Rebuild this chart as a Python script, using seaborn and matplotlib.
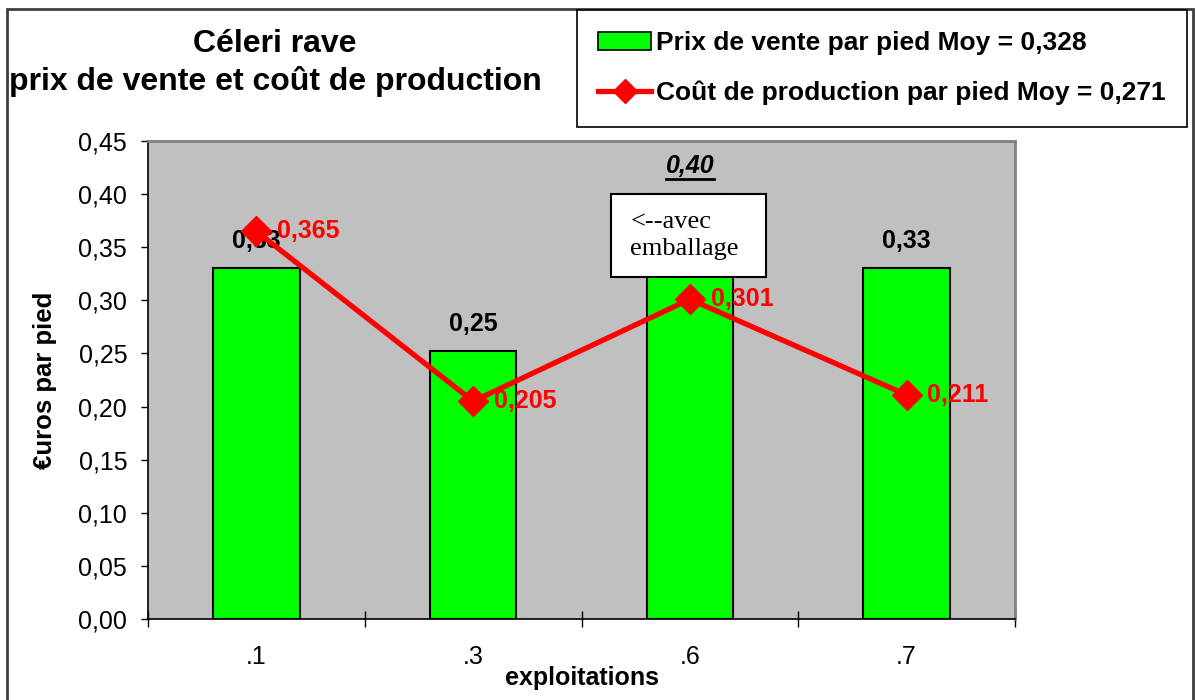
import matplotlib
matplotlib.use("Agg")
import matplotlib.pyplot as plt
import matplotlib.patches as mpatches
from matplotlib.lines import Line2D
import seaborn as sns
import pandas as pd

# ---- data ----
categories = [".1", ".3", ".6", ".7"]
prix_vente = [0.33, 0.252, 0.40, 0.33]
cout_production = [0.365, 0.205, 0.301, 0.211]
legend_prix = "Prix de vente par pied Moy = 0,328"
legend_cout = "Coût de production par pied Moy = 0,271"
title_text = "Céleri rave\nprix de vente et coût de production"
y_ticks = [0.0, 0.05, 0.10, 0.15, 0.20, 0.25, 0.30, 0.35, 0.40, 0.45]
note_text = "<--avec\nemballage"

plt.rcParams['font.family'] = ['Liberation Sans', 'DejaVu Sans']

W, H = 1195, 700
fig = plt.figure(figsize=(W / 100, H / 100), dpi=100)
ax = fig.add_axes([148 / W, 1 - 619 / H, (1015 - 148) / W, (619 - 141) / H])
ax.set_facecolor('#C0C0C0')

df = pd.DataFrame({'exploitation': categories, 'prix': prix_vente})
sns.barplot(data=df, x='exploitation', y='prix', color='#00FF00', saturation=1,
            edgecolor='black', linewidth=1.5, width=0.4, ax=ax, zorder=2)

xpos = list(range(len(categories)))
ax.plot(xpos, cout_production, color='#FF0000', lw=3.8, marker='D', markersize=15.5,
        zorder=6, clip_on=False)

ax.set_xlim(-0.5, len(categories) - 0.5)
ax.set_ylim(0, 0.45)

# y axis
ax.set_yticks(y_ticks)
ax.set_yticklabels([f"{v:.2f}".replace('.', ',') for v in y_ticks], fontsize=18)
ax.tick_params(axis='y', direction='out', length=5, width=1, pad=10, colors='black')

# x axis: ticks at boundaries, labels at centres
ax.set_xticks([i - 0.5 for i in range(len(categories) + 1)])
ax.set_xticklabels([''] * (len(categories) + 1))
ax.set_xticks(xpos, minor=True)
ax.set_xticklabels(categories, minor=True, fontsize=18)
ax.tick_params(axis='x', which='major', direction='inout', length=12, width=1)
ax.tick_params(axis='x', which='minor', length=0, pad=19)

ax.set_xlabel('exploitations', fontsize=18, fontweight='bold')
ax.set_ylabel('€uros par pied', fontsize=18.5, fontweight='bold')
ax.xaxis.set_label_coords(0.5, -(678 - 619) / (619 - 141))
ax.yaxis.set_label_coords(-(148 - 45) / (1015 - 148), 0.5)
ax.xaxis.label.set_va('center')
ax.yaxis.label.set_va('center')

for side in ['left', 'bottom']:
    ax.spines[side].set_color('black')
    ax.spines[side].set_linewidth(1.2)
for side in ['top', 'right']:
    ax.spines[side].set_color('#808080')
    ax.spines[side].set_linewidth(2)
ax.grid(False)

# bar value labels
under_text = None
for i, v in enumerate(prix_vente):
    lab = f"{v:.2f}".replace('.', ',')
    if i == 2:
        under_text = ax.annotate(lab, (i, v), xytext=(0, 20), textcoords='offset points',
                                 ha='center', va='center', fontsize=18, fontweight='bold',
                                 fontstyle='italic', color='black', zorder=7)
    else:
        ax.annotate(lab, (i, v), xytext=(0, 20), textcoords='offset points',
                    ha='center', va='center', fontsize=18, fontweight='bold',
                    color='black', zorder=5)

# line value labels
for i, v in enumerate(cout_production):
    lab = f"{v:.3f}".replace('.', ',')
    ax.annotate(lab, (i, v), xytext=(15, 0), textcoords='offset points',
                ha='left', va='center', fontsize=18, fontweight='bold',
                color='#FF0000', zorder=7)

# note box
bw = 155 / ((1015 - 148) / 4)
bh = 83 / ((619 - 141) / 0.45)
box_left = 2 - 79 / ((1015 - 148) / 4)
rect = mpatches.Rectangle((box_left, 0.40 - bh), bw, bh, facecolor='white',
                          edgecolor='black', linewidth=1.5, zorder=4)
ax.add_patch(rect)
ax.annotate(note_text, (box_left, 0.40 - bh / 2), xytext=(14, 0), textcoords='offset points',
            ha='left', va='center', fontsize=19, family='Liberation Serif',
            linespacing=1.3, zorder=5)

# title
fig.text(275 / W, 1 - 63 / H, title_text, ha='center', va='center', fontsize=23,
         fontweight='bold', linespacing=1.3)

# legend
handles = [mpatches.Patch(facecolor='#00FF00', edgecolor='black', linewidth=1.2),
           Line2D([0], [0], color='#FF0000', lw=3.8, marker='D', markersize=12)]
leg = fig.legend(handles, [legend_prix, legend_cout], loc='upper left',
                 bbox_to_anchor=(577 / W, 1 - 10 / H), bbox_transform=fig.transFigure,
                 prop={'weight': 'bold', 'size': 19}, frameon=True, fancybox=False,
                 edgecolor='black', framealpha=1, borderpad=0.8, labelspacing=0.98,
                 handlelength=2.0, handletextpad=0.2, borderaxespad=0)
leg.get_frame().set_linewidth(1.2)

# outer frame
frame = mpatches.Rectangle((7 / W, -0.05), (1193 - 7) / W, 1 - 9 / H + 0.05,
                           transform=fig.transFigure, fill=False, edgecolor='#404040',
                           linewidth=2, clip_on=False, zorder=0)
fig.patches.append(frame)

# underline for the 0,40 label
fig.canvas.draw()
bb = under_text.get_window_extent(renderer=fig.canvas.get_renderer())
inv = fig.transFigure.inverted()
(x0, y0), (x1, _) = inv.transform([(bb.x0, bb.y0 - 1), (bb.x1, bb.y0 - 1)])
fig.lines.append(Line2D([x0, x1], [y0, y0], transform=fig.transFigure,
                        color='black', lw=2))

fig.savefig('out.png', dpi=100)
